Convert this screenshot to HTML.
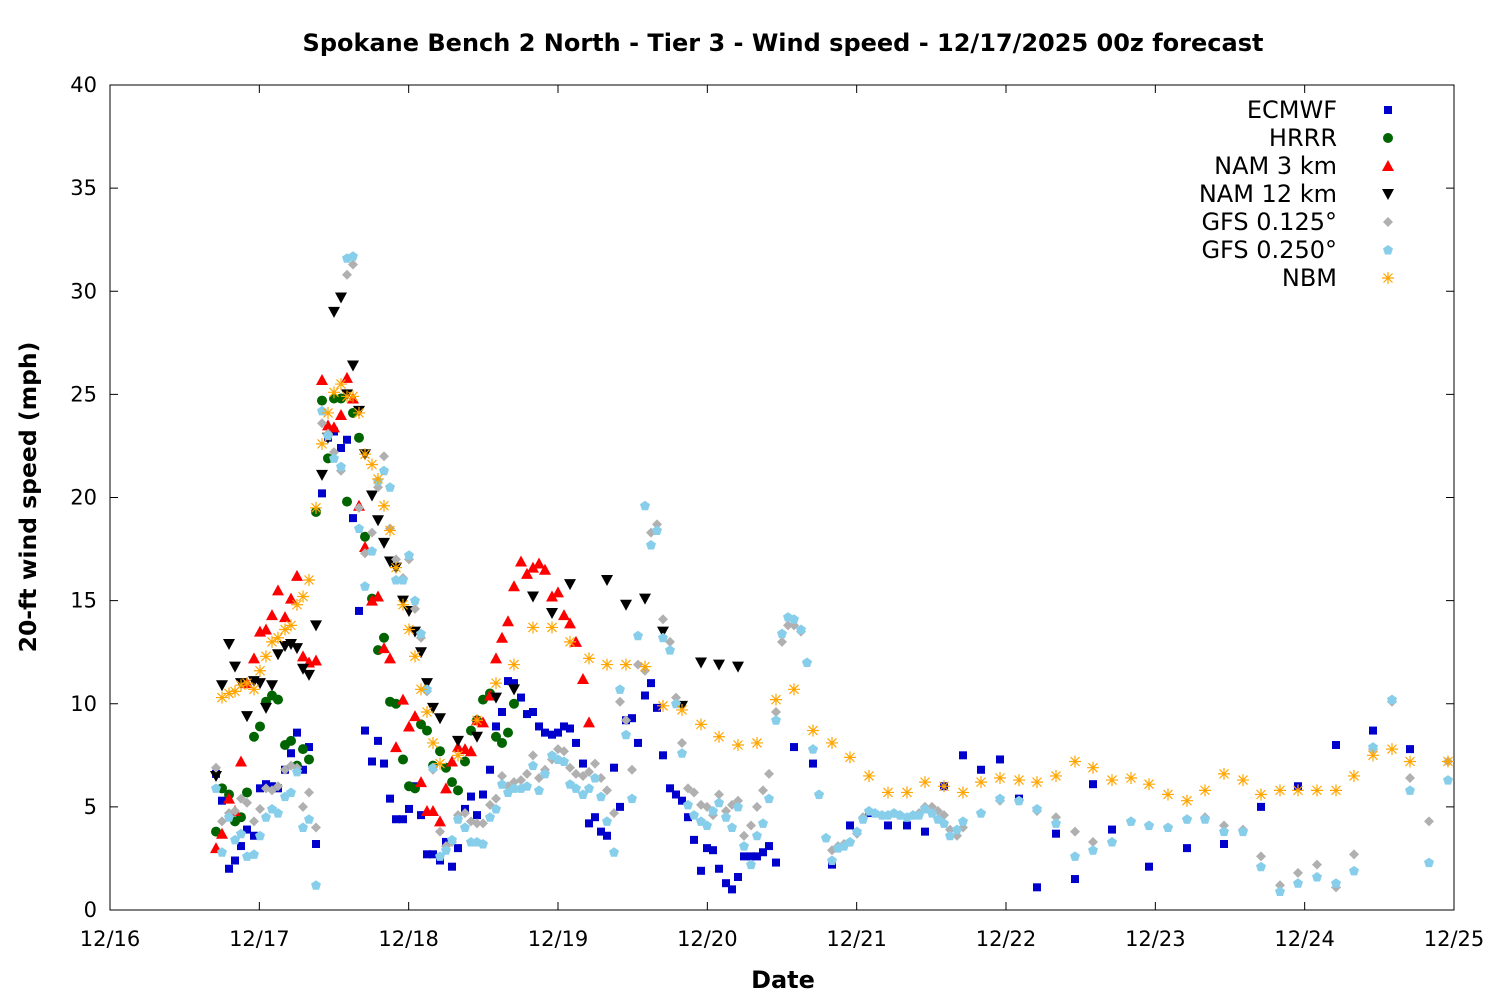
<!DOCTYPE html>
<html><head><meta charset="utf-8"><style>
html,body{margin:0;padding:0;background:#fff;}
svg{display:block;font-family:"DejaVu Sans","Liberation Sans",sans-serif;}
</style></head><body>
<svg id="s" width="1500" height="1000" xmlns="http://www.w3.org/2000/svg">
<rect width="1500" height="1000" fill="#fff"/>
<text x="783" y="51" text-anchor="middle" font-size="24" font-weight="bold">Spokane Bench 2 North - Tier 3 - Wind speed - 12/17/2025 00z forecast</text>
<rect x="110" y="85" width="1344" height="825" fill="none" stroke="#000" stroke-width="1"/>
<g id="ax" font-size="21"></g>
<text x="783" y="988" text-anchor="middle" font-size="24" font-weight="bold">Date</text>
<text transform="translate(36,497) rotate(-90)" text-anchor="middle" font-size="23.5" font-weight="bold">20-ft wind speed (mph)</text>
<g id="pts"></g>
<g id="leg" font-size="24"></g>
</svg>
<script>
var NS="http://www.w3.org/2000/svg";
function el(t,a,p){var e=document.createElementNS(NS,t);for(var k in a)e.setAttribute(k,a[k]);p.appendChild(e);return e;}
var ax=document.getElementById('ax'),pts=document.getElementById('pts'),leg=document.getElementById('leg');
function Y(v){return 910-v*20.625;}
for(var i=0;i<=8;i++){var y=Y(i*5);
el('line',{x1:110,y1:y,x2:118,y2:y,stroke:'#000'},ax);el('line',{x1:1454,y1:y,x2:1446,y2:y,stroke:'#000'},ax);
var t=el('text',{x:97,y:y+7,'text-anchor':'end'},ax);t.textContent=i*5;}
var days=['12/16','12/17','12/18','12/19','12/20','12/21','12/22','12/23','12/24','12/25'];
for(var i=0;i<=9;i++){var x=110+i*1344/9;
el('line',{x1:x,y1:910,x2:x,y2:902,stroke:'#000'},ax);el('line',{x1:x,y1:85,x2:x,y2:93,stroke:'#000'},ax);
var t=el('text',{x:x,y:946,'text-anchor':'middle'},ax);t.textContent=days[i];}
function P(s){var a=s.trim().split(/\s+/),r=[];for(var i=0;i<a.length;i++){var q=a[i].split(':');r.push([+q[0],+q[1]]);}return r;}
function mark(type,x,y,g){
 if(type=='sq')el('rect',{x:x-4,y:y-4,width:8,height:8,fill:'#0000cc'},g);
 else if(type=='ci')el('circle',{cx:x,cy:y,r:5,fill:'#006400'},g);
 else if(type=='up')el('polygon',{points:(x-6)+','+(y+5)+' '+(x+6)+','+(y+5)+' '+x+','+(y-6),fill:'#ff0000'},g);
 else if(type=='dn')el('polygon',{points:(x-6)+','+(y-5)+' '+(x+6)+','+(y-5)+' '+x+','+(y+6),fill:'#000'},g);
 else if(type=='di')el('polygon',{points:x+','+(y-5)+' '+(x+5)+','+y+' '+x+','+(y+5)+' '+(x-5)+','+y,fill:'#b0b0b0'},g);
 else if(type=='pe')el('polygon',{points:x+','+(y-5)+' '+(x+5)+','+(y-1.5)+' '+(x+3)+','+(y+4.5)+' '+(x-3)+','+(y+4.5)+' '+(x-5)+','+(y-1.5),fill:'#87ceeb'},g);
 else if(type=='as'){var d='M'+(x-6)+' '+y+'H'+(x+6)+'M'+x+' '+(y-6)+'V'+(y+6)+'M'+(x-4.5)+' '+(y-4.5)+'L'+(x+4.5)+' '+(y+4.5)+'M'+(x-4.5)+' '+(y+4.5)+'L'+(x+4.5)+' '+(y-4.5);el('path',{d:d,stroke:'#ffa500','stroke-width':1.2,fill:'none'},g);}
}
var S={
di:"216:6.9 222:4.3 229:4.7 235:4.8 241:5.4 247:5.2 254:4.3 260:4.9 266:5.9 272:5.8 278:6.0 285:6.8 291:7.0 297:6.9 303:5.0 309:5.7 316:4.0 322:23.6 328:23.1 334:22.2 341:21.3 347:30.8 353:31.3 359:19.5 365:17.3 372:18.3 378:20.5 384:22.0 390:18.5 396:17.0 403:16.1 409:17.0 415:14.6 421:13.2 427:10.6 433:6.8 440:3.8 446:3.1 452:3.3 458:4.6 465:4.7 471:4.3 477:4.2 483:4.2 490:5.1 496:5.4 502:6.5 508:6.0 514:6.2 521:6.3 527:6.6 533:7.5 539:6.4 545:6.8 552:7.3 558:7.8 564:7.7 570:6.9 576:6.6 583:6.5 589:6.7 595:7.1 601:6.4 607:5.8 614:4.7 620:10.1 626:9.2 632:6.8 638:11.9 645:11.6 651:18.3 657:18.7 663:14.1 670:13.0 676:10.3 682:8.1 688:5.9 694:5.7 701:5.1 707:5.0 713:4.6 719:5.6 726:4.8 732:5.1 738:5.3 744:3.6 751:4.1 757:5.0 763:5.8 769:6.6 776:9.6 782:13.0 788:13.8 794:13.8 801:13.5 807:12.0 813:7.8 819:5.6 826:3.5 832:2.9 838:3.1 844:3.2 850:3.3 857:3.7 863:4.5 869:4.8 875:4.7 882:4.6 888:4.6 894:4.7 900:4.6 907:4.5 913:4.6 919:4.7 925:5.0 932:5.0 938:4.8 944:4.6 950:3.9 957:3.6 963:4.0 981:4.7 1000:5.3 1019:5.3 1037:4.8 1056:4.5 1075:3.8 1093:3.3 1112:3.3 1131:4.3 1149:4.1 1168:4.0 1187:4.4 1205:4.5 1224:4.1 1243:3.9 1261:2.6 1280:1.2 1298:1.8 1317:2.2 1336:1.1 1354:2.7 1373:7.8 1392:10.1 1410:6.4 1429:4.3 1448:7.2",
pe:"216:5.9 222:2.8 229:4.5 235:3.4 241:3.7 247:2.6 254:2.7 260:3.6 266:4.5 272:4.9 278:4.7 285:5.5 291:5.7 297:6.7 303:4.0 309:4.4 316:1.2 322:24.2 328:23.0 334:21.9 341:21.5 347:31.6 353:31.7 359:18.5 365:15.7 372:17.4 378:20.8 384:21.3 390:20.5 396:16.0 403:16.0 409:17.2 415:15.0 421:13.4 427:10.7 433:6.9 440:2.6 446:2.9 452:3.4 458:4.4 465:4.0 471:3.3 477:3.3 483:3.2 490:4.5 496:4.9 502:6.1 508:5.7 514:5.9 521:5.9 527:6.0 533:7.0 539:5.8 545:6.6 552:7.5 558:7.3 564:7.2 570:6.1 576:5.9 583:5.6 589:5.9 595:6.4 601:5.5 607:4.3 614:2.8 620:10.7 626:8.5 632:5.4 638:13.3 645:19.6 651:17.7 657:18.4 663:13.2 670:12.6 676:10.0 682:7.6 688:5.1 694:4.6 701:4.3 707:4.1 713:4.8 719:5.2 726:4.5 732:4.0 738:5.0 744:3.1 751:2.2 757:3.6 763:4.2 769:5.4 776:9.2 782:13.4 788:14.2 794:14.1 801:13.6 807:12.0 813:7.8 819:5.6 826:3.5 832:2.4 838:3.0 844:3.1 850:3.3 857:3.8 863:4.4 869:4.8 875:4.7 882:4.6 888:4.6 894:4.7 900:4.6 907:4.5 913:4.6 919:4.6 925:4.9 932:4.7 938:4.4 944:4.2 950:3.6 957:3.9 963:4.3 981:4.7 1000:5.4 1019:5.3 1037:4.9 1056:4.2 1075:2.6 1093:2.9 1112:3.3 1131:4.3 1149:4.1 1168:4.0 1187:4.4 1205:4.4 1224:3.8 1243:3.8 1261:2.1 1280:0.9 1298:1.3 1317:1.6 1336:1.3 1354:1.9 1373:7.9 1392:10.2 1410:5.8 1429:2.3 1448:6.3",
as:"222:10.3 229:10.5 235:10.6 241:10.9 247:11.0 254:10.7 260:11.6 266:12.3 272:13.0 278:13.2 285:13.6 291:13.8 297:14.8 303:15.2 309:16.0 316:19.5 322:22.6 328:24.1 334:25.1 341:25.5 347:24.9 353:24.9 359:24.1 365:22.1 372:21.6 378:20.9 384:19.6 390:18.4 396:16.6 403:14.8 409:13.6 415:12.3 421:10.7 427:9.6 433:8.1 440:7.1 458:7.5 477:9.2 496:11.0 514:11.9 533:13.7 552:13.7 570:13.0 589:12.2 607:11.9 626:11.9 645:11.8 663:9.9 682:9.7 701:9.0 719:8.4 738:8.0 757:8.1 776:10.2 794:10.7 813:8.7 832:8.1 850:7.4 869:6.5 888:5.7 907:5.7 925:6.2 944:6.0 963:5.7 981:6.2 1000:6.4 1019:6.3 1037:6.2 1056:6.5 1075:7.2 1093:6.9 1112:6.3 1131:6.4 1149:6.1 1168:5.6 1187:5.3 1205:5.8 1224:6.6 1243:6.3 1261:5.6 1280:5.8 1298:5.8 1317:5.8 1336:5.8 1354:6.5 1373:7.5 1392:7.8 1410:7.2 1448:7.2",
dn:"216:6.5 222:10.9 229:12.9 235:11.8 241:11.0 247:9.4 254:11.1 260:11.0 266:9.8 272:10.9 278:12.4 285:12.8 291:12.9 297:12.7 303:11.7 309:11.4 316:13.8 322:21.1 328:22.9 334:29.0 341:29.7 347:25.0 353:26.4 359:24.2 365:22.1 372:20.1 378:18.9 384:17.8 390:16.9 396:16.6 403:15.0 409:14.5 415:13.5 421:12.5 427:11.0 433:9.8 440:9.3 458:8.2 477:8.4 496:10.3 514:10.7 533:15.2 552:14.4 570:15.8 607:16.0 626:14.8 645:15.1 663:13.5 682:9.9 701:12.0 719:11.9 738:11.8",
up:"216:3.0 222:3.7 229:5.4 235:4.8 241:7.2 247:11.0 254:12.2 260:13.5 266:13.6 272:14.3 278:15.5 285:14.2 291:15.1 297:16.2 303:12.3 309:12.0 316:12.1 322:25.7 328:23.5 334:23.4 341:24.0 347:25.8 353:24.8 359:19.6 365:17.6 372:15.0 378:15.2 384:12.7 390:12.2 396:7.9 403:10.2 409:8.9 415:9.4 421:6.2 427:4.8 433:4.8 440:4.3 446:5.9 452:7.2 458:7.9 465:7.8 471:7.7 477:9.2 483:9.1 490:10.4 496:12.2 502:13.2 508:14.0 514:15.7 521:16.9 527:16.3 533:16.6 539:16.8 545:16.5 552:15.2 558:15.4 564:14.3 570:13.9 576:13.0 583:11.2 589:9.1",
ci:"216:3.8 222:5.9 229:5.6 235:4.3 241:4.5 247:5.7 254:8.4 260:8.9 266:10.1 272:10.4 278:10.2 285:8.0 291:8.2 297:7.0 303:7.8 309:7.3 316:19.3 322:24.7 328:21.9 334:24.8 341:24.8 347:19.8 353:24.1 359:22.9 365:18.1 372:15.1 378:12.6 384:13.2 390:10.1 396:10.0 403:7.3 409:6.0 415:5.9 421:9.0 427:8.7 433:7.0 440:7.7 446:6.9 452:6.2 458:5.8 465:7.2 471:8.7 477:9.2 483:10.2 490:10.5 496:8.4 502:8.1 508:8.6 514:10.0",
sq:"216:6.6 222:5.3 229:2.0 235:2.4 241:3.1 247:3.9 254:3.6 260:5.9 266:6.1 272:6.0 278:5.9 285:6.8 291:7.6 297:8.6 303:6.8 309:7.9 316:3.2 322:20.2 328:22.9 334:23.2 341:22.4 347:22.8 353:19.0 359:14.5 365:8.7 372:7.2 378:8.2 384:7.1 390:5.4 396:4.4 403:4.4 409:4.9 415:6.0 421:4.6 427:2.7 433:2.7 440:2.4 446:3.3 452:2.1 458:3.0 465:4.9 471:5.5 477:4.6 483:5.6 490:6.8 496:8.9 502:9.6 508:11.1 514:11.0 521:10.3 527:9.5 533:9.6 539:8.9 545:8.6 552:8.5 558:8.6 564:8.9 570:8.8 576:8.1 583:7.1 589:4.2 595:4.5 601:3.8 607:3.6 614:6.9 620:5.0 626:9.2 632:9.3 638:8.1 645:10.4 651:11.0 657:9.8 663:7.5 670:5.9 676:5.6 682:5.3 688:4.5 694:3.4 701:1.9 707:3.0 713:2.9 719:2.0 726:1.3 732:1.0 738:1.6 744:2.6 751:2.6 757:2.6 763:2.8 769:3.1 776:2.3 794:7.9 813:7.1 832:2.2 850:4.1 869:4.7 888:4.1 907:4.1 925:3.8 944:6.0 963:7.5 981:6.8 1000:7.3 1019:5.4 1037:1.1 1056:3.7 1075:1.5 1093:6.1 1112:3.9 1149:2.1 1187:3.0 1224:3.2 1261:5.0 1298:6.0 1336:8.0 1373:8.7 1410:7.8"
};
var order=['sq','ci','up','dn','di','pe','as'];
for(var k=0;k<order.length;k++){var d=P(S[order[k]]);for(var i=0;i<d.length;i++)mark(order[k],d[i][0],Y(d[i][1]),pts);}
var names=['ECMWF','HRRR','NAM 3 km','NAM 12 km','GFS 0.125°','GFS 0.250°','NBM'];
var lt=['sq','ci','up','dn','di','pe','as'];
for(var i=0;i<7;i++){var y=110+i*28;var t=el('text',{x:1337,y:y+8,'text-anchor':'end'},leg);t.textContent=names[i];mark(lt[i],1388,y,leg);}
</script>
</body></html>
